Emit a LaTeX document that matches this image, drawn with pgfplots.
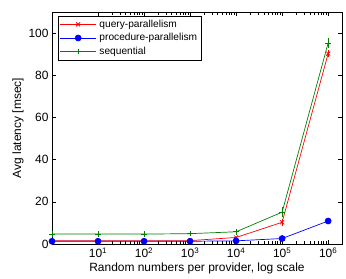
\documentclass[border=0pt]{standalone}
\usepackage{pgfplots}
\pgfplotsset{compat=1.18}
\usepackage{fontspec}
\setmainfont{Liberation Sans}
\definecolor{mgreen}{rgb}{0,0.5,0}
\pgfplotsset{
  mylegend/.style={legend image code/.code={\draw[##1, mark=none] (0mm,0mm) -- (12.7mm,0mm); \draw[##1, draw=none] plot coordinates {(6.35mm,0mm)};}}
}
\begin{document}
\begin{tikzpicture}
\begin{axis}[
  name=ax,
  scale only axis, width=290bp, height=232bp,
  xmode=log, xmin=1, xmax=2e6,
  ymin=0, ymax=110,
  xtick={10,100,1000,10000,100000,1000000},
  xticklabels={10\textsuperscript{1},10\textsuperscript{2},10\textsuperscript{3},10\textsuperscript{4},10\textsuperscript{5},10\textsuperscript{6}},
  ytick={0,20,40,60,80,100},
  minor tick num=0, minor xtick={},
  log ticks with fixed point=false,
  /pgf/number format/assume math mode=true,
  tick align=inside, tick style={black, line width=0.6pt}, major tick length=4bp,
  xtick pos=both, ytick pos=both,
  ticklabel style={font=\fontsize{12}{13}\selectfont},
  label style={font=\fontsize{12}{13}\selectfont},
  xlabel={Random numbers per provider, log scale},
  ylabel={Avg latency [msec]},
  xlabel style={yshift=2bp},
  ylabel style={yshift=-2bp},
  axis line style={line width=0.8pt},
  legend style={at={(0.0207,0.984)}, anchor=north west, font=\fontsize{10.2}{12}\selectfont, draw=black, line width=0.6pt, inner sep=1.5pt, row sep=0pt, legend cell align=left, nodes={inner xsep=3bp, inner ysep=2.4bp}},
  every axis plot/.append style={line width=0.7pt, mark size=2.8pt},
  mylegend,
]
\addplot[red, mark=x, mark options={line width=0.8pt}, mylegend, error bars/.cd, y dir=both, y explicit, error mark options={red, mark size=2.5pt, line width=0.7pt}] coordinates {
(1,1.5) (10,1.5) (100,1.5) (1000,1.6) (10000,3.1) (100000,10.3) +- (0,0.6) (1000000,90.3) +- (0,0.6)};
\addlegendentry{query-parallelism}
\addplot[blue, mark=*, mark size=3pt, mylegend] coordinates {
(1,1.3) (10,1.3) (100,1.3) (1000,1.3) (10000,1.5) (100000,2.6) (1000000,10.9)};
\addlegendentry{procedure-parallelism}
\addplot[mgreen, mark=+, mark options={line width=0.8pt}, mylegend, error bars/.cd, y dir=both, y explicit, error mark options={mgreen, mark size=2.5pt, line width=0.7pt}] coordinates {
(1,4.7) (10,4.7) (100,4.7) (1000,4.9) (10000,5.8) (100000,15.1) +- (0,1.3) (1000000,95.3) +- (0,1.3)};
\addlegendentry{sequential}
\end{axis}
\pgfresetboundingbox
\path ([shift={(-52bp,-35bp)}]ax.south west) rectangle ([shift={(4bp,12bp)}]ax.north east);
\end{tikzpicture}
\end{document}
